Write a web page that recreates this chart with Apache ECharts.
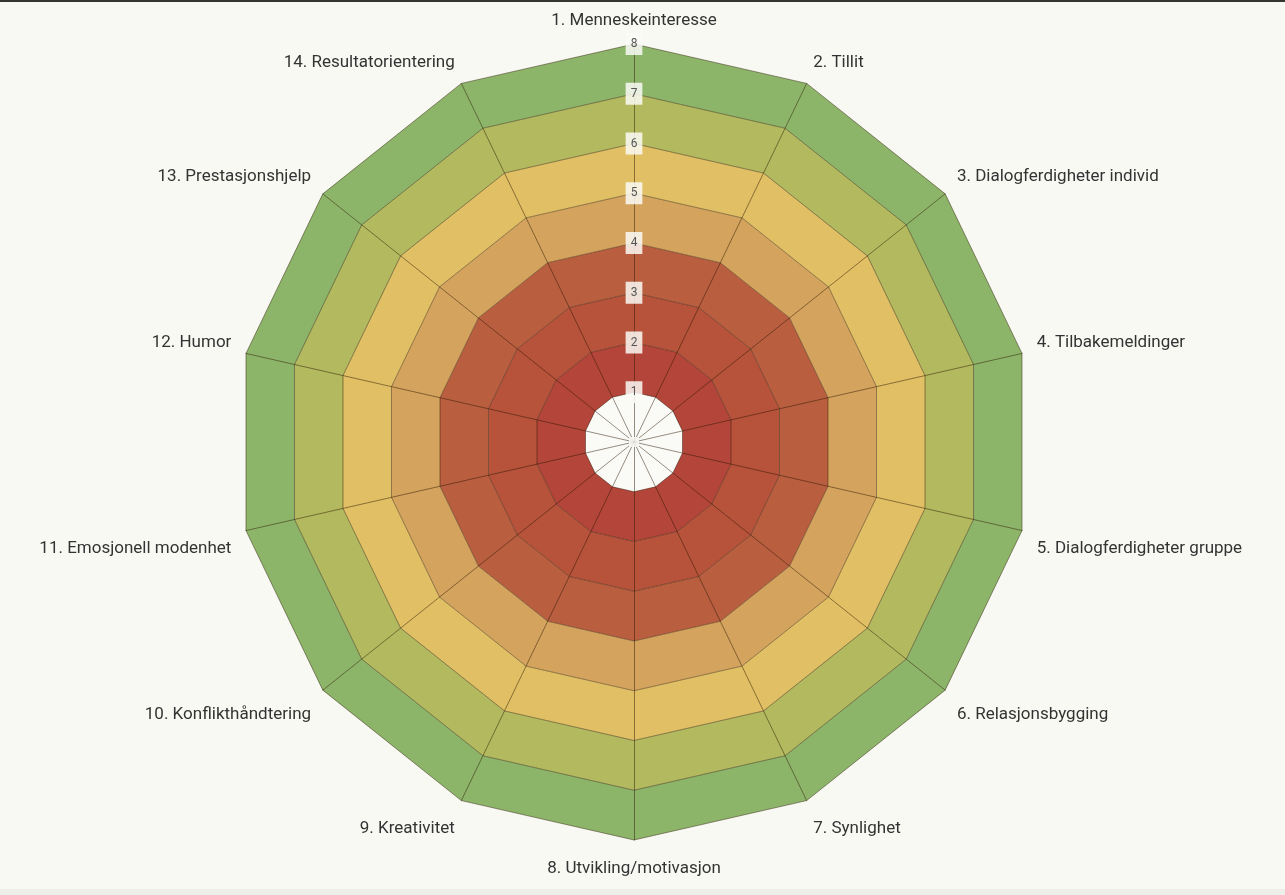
<!DOCTYPE html>
<html>
<head>
    <meta charset="utf-8">
    <title>Ledelse radar</title>
    <script src="https://cdn.jsdelivr.net/npm/echarts@6/dist/echarts.min.js"></script>
    <style>
        html, body { margin: 0; padding: 0; background: #f9f9f4; }
        #topline { position: absolute; left: 0; top: 0; width: 1285px; height: 2px; background: #34352f; z-index: 2; }
        #bottomline { position: absolute; left: 0; top: 889px; width: 1285px; height: 6px; background: #efefea; z-index: 2; }
    </style>
</head>
<body>
    <div id="topline"></div>
    <div id="main" style="width: 1285px;height:895px;"></div>
    <div id="bottomline"></div>
    <script type="text/javascript">
    // indikatorer (akser), med klokka fra toppen
    var indicatorNames = [
        '1. Menneskeinteresse',
        '2. Tillit',
        '3. Dialogferdigheter individ',
        '4. Tilbakemeldinger',
        '5. Dialogferdigheter gruppe',
        '6. Relasjonsbygging',
        '7. Synlighet',
        '8. Utvikling/motivasjon',
        '9. Kreativitet',
        '10. Konflikthåndtering',
        '11. Emosjonell modenhet',
        '12. Humor',
        '13. Prestasjonshjelp',
        '14. Resultatorientering'
    ];
    var scaleMax = 8;
    var tickLabels = ['1', '2', '3', '4', '5', '6', '7', '8'];

    // farger på ringene, innerst -> ytterst
    var bandColors = ['#fafaf6', '#b4453a', '#b7523b', '#ba5e40', '#d4a35d', '#e0bf65', '#b3b95e', '#8db56a'];

    var myChart = echarts.init(document.getElementById('main'));

    // echarts radar går mot klokka, så vi snur rekkefølgen (1 står fast på toppen)
    var order = [0];
    for (var k = indicatorNames.length - 1; k > 0; k--) order.push(k);

    var indicators = order.map(function (idx, i) {
        var ind = { name: indicatorNames[idx], max: scaleMax, min: 0 };
        if (i === 0) {
            ind.axisLabel = {
                show: true,
                margin: 0,
                align: 'center',
                verticalAlign: 'middle',
                color: '#555',
                fontSize: 12,
                fontFamily: 'Roboto',
                backgroundColor: 'rgba(250,250,246,0.85)',
                padding: [5, 5],
                formatter: function (v) {
                    var t = Math.round(v);
                    return t >= 1 ? tickLabels[t - 1] : '';
                }
            };
        }
        return ind;
    });

    var n = indicatorNames.length;
    function nameFormatter(name) {
        var idx = indicatorNames.indexOf(name);
        if (idx === 0) return name;
        if (idx === n / 2) return '{s5| }\n' + name;
        // øvre halvdel: løft, nedre halvdel: senk
        var side = idx > n / 2 ? n - idx : idx;
        if (side < n / 4) return name + '\n{s15| }';
        return '{s30| }\n' + name;
    }

    var option = {
        backgroundColor: '#f9f9f4',
        animation: false,
        radar: {
            center: [634, 442],
            radius: 398,
            startAngle: 90,
            splitNumber: 8,
            shape: 'polygon',
            indicator: indicators,
            axisName: {
                color: '#333',
                fontSize: 17,
                fontFamily: 'Roboto',
                formatter: nameFormatter,
                rich: {
                    s5: { height: 5, fontSize: 1, lineHeight: 5 },
                    s15: { height: 15, fontSize: 1, lineHeight: 15 },
                    s30: { height: 30, fontSize: 1, lineHeight: 30 }
                }
            },
            nameGap: 15,
            axisLine: {
                lineStyle: { color: 'rgba(40,20,0,0.48)', width: 1 }
            },
            splitLine: {
                lineStyle: { color: 'rgba(40,20,0,0.45)', width: 1 }
            },
            splitArea: {
                show: true,
                areaStyle: { color: bandColors, opacity: 1 }
            },
            axisLabel: { show: false }
        },
        series: [{
            type: 'radar',
            data: []
        }]
    };

    myChart.setOption(option);
    </script>
</body>
</html>
